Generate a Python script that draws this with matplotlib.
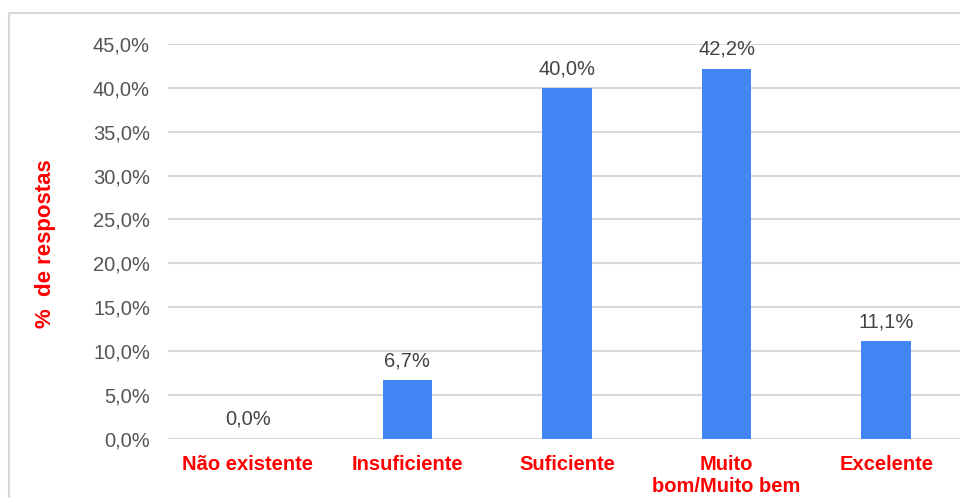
import matplotlib as mpl
mpl.use("Agg")
import matplotlib.pyplot as plt
from matplotlib.patches import Rectangle
import numpy as np

categories = ["Não existente", "Insuficiente", "Suficiente", "Muito\nbom/Muito bem", "Excelente"]
values = [0.0, 6.7, 40.0, 42.2, 11.1]
yticks = [0, 5, 10, 15, 20, 25, 30, 35, 40, 45]

plt.rcParams["font.family"] = ["Liberation Sans", "DejaVu Sans"]
BLUE = "#4285F4"
RED = "#FF0000"
GRID = "#D9D9D9"

W, H = 960, 498
fig = plt.figure(figsize=(W / 100, H / 100), dpi=100)

# light frame around the chart (right/bottom edges run off the image)
fig.patches.append(Rectangle((9 / W, -0.05), 1.1, 1 - 13 / H + 0.05, transform=fig.transFigure,
                             fill=False, edgecolor="#D9D9D9", linewidth=1.5))

ax = fig.add_axes([168 / W, (H - 438.7) / H, (966 - 168) / W, (438.7 - 44) / H])
x = np.arange(len(categories))
ax.bar(x, values, width=0.31, color=BLUE, zorder=3)
for xi, v in zip(x, values):
    ax.annotate(f"{v:.1f}%".replace(".", ","), (xi, v), xytext=(0, 7), textcoords="offset points",
                ha="center", va="bottom", fontsize=14.5, color="#444444")

ax.set_xlim(-0.5, 4.5)
ax.set_ylim(0, 45)
ax.set_yticks(yticks)
ax.set_yticklabels([f"{t:.1f}%".replace(".", ",") for t in yticks], fontsize=14.5, color="#555555")
ax.set_xticks(x)
ax.set_xticklabels(categories, fontsize=14.5, color=RED, fontweight="bold", linespacing=1.15)
ax.tick_params(axis="y", length=0, pad=13)
ax.tick_params(axis="x", length=0, pad=12)
ax.grid(axis="y", color=GRID, linewidth=1.5, zorder=0)
ax.set_axisbelow(True)
for s in ax.spines.values():
    s.set_visible(False)

fig.text(46 / W, 1 - 244 / H, "%  de respostas", rotation=90, ha="center", va="center",
         fontsize=16, color=RED, fontweight="bold")

fig.savefig("out.png", dpi=100)
